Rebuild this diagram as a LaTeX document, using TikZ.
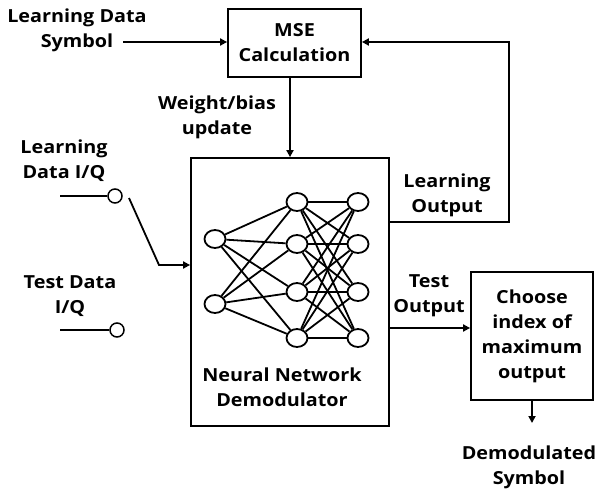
\documentclass[tikz,border=0pt]{standalone}
\usepackage{fontspec}
\setmainfont{Open Sans}[FakeStretch=1.1]
\usetikzlibrary{arrows.meta, positioning, shapes.geometric}

\begin{document}
\begin{tikzpicture}[
    x=1pt, y=-1pt,
    box/.style={rectangle, draw, line width=1.8pt, inner sep=0pt, align=center},
    lbl/.style={align=center, font=\fontsize{18}{25}\selectfont\bfseries, inner sep=0pt},
    arrow/.style={-{Triangle[length=7pt,width=7pt]}, line width=1.8pt},
    wire/.style={line width=1.8pt},
    neuron/.style={ellipse, draw, line width=1.8pt, minimum width=21pt, minimum height=18pt, inner sep=0pt},
    port/.style={circle, draw, line width=1.5pt, minimum size=14pt, inner sep=0pt}
  ]
  \useasboundingbox (0,0) rectangle (597,492);

  % Blocks
  \node[box, lbl, minimum width=133pt, minimum height=68pt] (mse) at (294.5,43) {MSE\\Calculation};
  \node[box, minimum width=198pt, minimum height=268pt] (nn) at (290,292) {};
  \node[box, lbl, minimum width=122pt, minimum height=128pt] (choose) at (532,336) {Choose\\index of\\maximum\\output};

  % Network inside the demodulator
  \foreach \i/\y in {1/239, 2/304}
    \node[neuron] (in\i) at (215,\y) {};
  \foreach \i/\y in {1/202, 2/244, 3/292, 4/338} {
    \node[neuron] (hid\i) at (297,\y) {};
    \node[neuron] (out\i) at (358,\y) {};
  }
  \foreach \i in {1,2}
    \foreach \j in {1,...,4}
      \draw[wire] (in\i) -- (hid\j);
  \foreach \i in {1,...,4}
    \foreach \j in {1,...,4}
      \draw[wire] (hid\i) -- (out\j);
  \node[lbl] (nnlabel) at (282,387) {Neural Network\\Demodulator};

  % Labels
  \node[lbl] (lds) at (77,30) {Learning Data\\Symbol};
  \node[lbl] (wb) at (217,117) {Weight/bias\\update};
  \node[lbl] (ldiq) at (64,161) {Learning\\Data I/Q};
  \node[lbl] (tdiq) at (70,296) {Test Data\\I/Q};
  \node[lbl] (lout) at (447,195) {Learning\\Output};
  \node[lbl] (tout) at (429,296) {Test\\Output};
  \node[lbl] (dsym) at (529,467) {Demodulated\\Symbol};

  % Switch
  \node[port] (p1) at (115,196) {};
  \node[port] (p2) at (117,330) {};
  \coordinate (p1in) at (60,196);
  \coordinate (p2in) at (60,330);
  \coordinate (arm) at (129,198);
  \coordinate (bend) at (159,265);
  \draw[wire] (p1in) -- (p1);
  \draw[wire] (p2in) -- (p2);
  \draw[arrow] (arm) -- (bend) -- (nn.west |- bend);

  % Connections
  \coordinate (ldsout) at (123,42);
  \coordinate (loop) at (509,222);
  \coordinate (tap) at (389,328);
  \coordinate (dsout) at (532,423);
  \draw[arrow] (ldsout) -- (ldsout -| mse.west);
  \draw[arrow] (mse.south -| nn.north) -- (nn.north);
  \draw[arrow] (nn.east |- loop) -- (loop) -- (loop |- ldsout) -- (ldsout -| mse.east);
  \draw[arrow] (nn.east |- tap) -- (tap -| choose.west);
  \draw[arrow] (choose.south) -- (dsout);
\end{tikzpicture}
\end{document}
